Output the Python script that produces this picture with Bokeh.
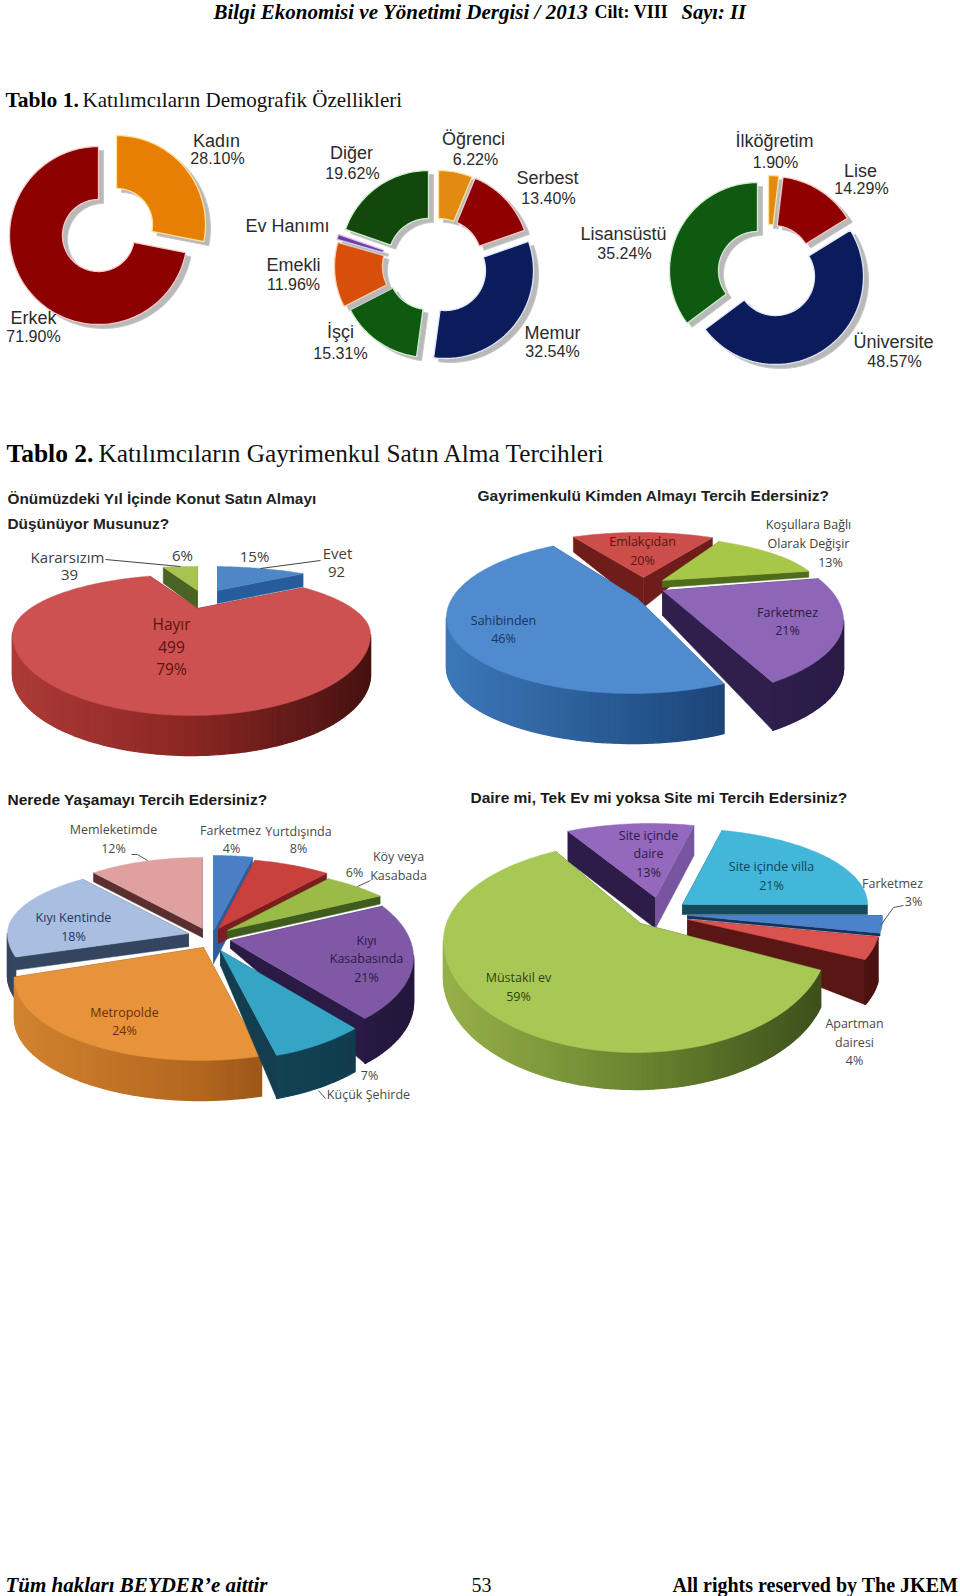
import math
from bokeh.plotting import figure
from bokeh.models import Range1d
from bokeh.core.properties import value
from bokeh.embed import file_html
from bokeh.resources import INLINE

# ---------- data ----------
gender_labels = ["Kadın", "Erkek"]
gender_values = [28.10, 71.90]
job_labels = ["Öğrenci", "Serbest", "Memur", "İşçi", "Emekli", "Ev Hanımı", "Diğer"]
job_values = [6.22, 13.40, 32.54, 15.31, 11.96, 0.95, 19.62]
edu_labels = ["İlköğretim", "Lise", "Üniversite", "Lisansüstü"]
edu_values = [1.90, 14.29, 48.57, 35.24]

buy_labels = ["Evet", "Hayır", "Kararsızım"]
buy_values = [15, 79, 6]
seller_labels = ["Emlakçıdan", "Koşullara Bağlı Olarak Değişir", "Farketmez", "Sahibinden"]
seller_values = [20, 13, 21, 46]
place_labels = ["Farketmez", "Yurtdışında", "Köy veya Kasabada", "Kıyı Kasabasında",
                "Küçük Şehirde", "Metropolde", "Kıyı Kentinde", "Memleketimde"]
place_values = [4, 8, 6, 21, 7, 24, 18, 12]
home_labels = ["Site içinde daire", "Site içinde villa", "Farketmez", "Apartman dairesi", "Müstakil ev"]
home_values = [13, 21, 3, 4, 59]

# ---------- page ----------
W, H = 960, 1596
p = figure(width=W, height=H, output_backend="svg", toolbar_location=None,
           x_range=Range1d(0, W), y_range=Range1d(H, 0), min_border=0,
           background_fill_color="white", border_fill_color="white", margin=0)
p.axis.visible = False
p.grid.visible = False
p.outline_line_color = None
SERIF, SANS, OPEN = "Liberation Serif", "Liberation Sans", "Open Sans"


def txt(x, y, s, size, color="#333333", font=OPEN, style="normal", align="center"):
    p.text([x], [y - 1.5], text=[s], text_font=value(font), text_font_size=f"{size}px",
           text_font_style=style, text_color=color, text_align=align, text_baseline="middle")


def angles(vals, start=0.0):
    out, a, tot = [], start, sum(vals)
    for v in vals:
        b = a + v / tot * 360.0
        out.append((a, b))
        a = b
    return out


def arc_steps(a, b, step=1.5):
    n = max(2, int((b - a) / step) + 1)
    return [a + (b - a) * i / (n - 1) for i in range(n)]


# ---------- flat donuts with a drop shadow ----------
def donut(vals, apexes, R, r, colors, halos, shadow=(5, 4)):
    for (a, b), (cx, cy), c, hl in zip(angles(vals), apexes, colors, halos):
        th = arc_steps(a, b)
        xs = [cx + R * math.sin(math.radians(t)) for t in th] + \
             [cx + r * math.sin(math.radians(t)) for t in reversed(th)]
        ys = [cy - R * math.cos(math.radians(t)) for t in th] + \
             [cy - r * math.cos(math.radians(t)) for t in reversed(th)]
        p.patch([x + shadow[0] for x in xs], [y + shadow[1] for y in ys],
                fill_color="#b9b9b9", line_color="#c8c8c8", line_width=1)
        p.patch(xs, ys, fill_color=c, line_color=hl, line_width=1.3)


# ---------- "3D" pies ----------
def hit(ax, ay, dx, dy, e):
    ex, ey, rx, ryt, ryb = e
    for ry in (ryt, ryb):
        A = (dx / rx) ** 2 + (dy / ry) ** 2
        B = 2 * ((ax - ex) * dx / rx ** 2 + (ay - ey) * dy / ry ** 2)
        C = ((ax - ex) / rx) ** 2 + ((ay - ey) / ry) ** 2 - 1
        D = B * B - 4 * A * C
        if D < 0:
            continue
        s = (-B + math.sqrt(D)) / (2 * A)
        x, y = ax + s * dx, ay + s * dy
        if ry is ryb or y <= ey:
            return x, y
    return ax, ay


def mix(c1, c2, t):
    a = [int(c1[i:i + 2], 16) for i in (1, 3, 5)]
    b = [int(c2[i:i + 2], 16) for i in (1, 3, 5)]
    return "#%02x%02x%02x" % tuple(round(u + (v - u) * t) for u, v in zip(a, b))


def wedge3d(a, b, w):
    ax, ay = w["apex"]
    e = w["e"]
    ex, ey, rx = e[:3]
    kt, kb = w.get("kt", 0.48), w.get("kb", 0.48)
    pts = []
    for t in arc_steps(a, b):
        sn, cs = math.sin(math.radians(t)), math.cos(math.radians(t))
        pts.append(hit(ax, ay, sn, -cs * (kt if cs > 0 else kb), e))
    h, ha = w.get("h", 0), w.get("ha", w.get("h", 0))
    hw = w.get("hw", h)
    side = w.get("side", "#333333")
    for q, col in ((pts[0], w.get("side0", side)), (pts[-1], w.get("side1", side))):
        p.patch([ax, q[0], q[0], ax], [ay, q[1], q[1] + h, ay + ha],
                fill_color=col, line_color=col, line_width=0.5)
    wall = w.get("wall")
    if wall and hw > 0:
        for (x0, y0), (x1, y1) in zip(pts[:-1], pts[1:]):
            if max(y0, y1) < ey:
                continue
            f = max(0, min(1, ((x0 + x1) / 2 - (ex - rx)) / (2 * rx)))
            col = mix(wall[0], wall[1], f * 2) if f < .5 else mix(wall[1], wall[2], f * 2 - 1)
            p.patch([x0, x1, x1, x0], [y0, y1, y1 + hw, y0 + hw],
                    fill_color=col, line_color=col, line_width=1.4)
    p.patch([ax] + [q[0] for q in pts], [ay] + [q[1] for q in pts],
            fill_color=w["top"], line_color=w["top"], line_width=0.5)


def pie3d(vals, layout, order, start=0.0):
    spans = angles(vals, start)
    for i in order:
        wedge3d(spans[i][0], spans[i][1], layout[i])


# ---------- header ----------
txt(213, 13, "Bilgi Ekonomisi ve Yönetimi Dergisi / 2013", 21, "#000000", SERIF, "bold italic", "left")
txt(594, 13, "Cilt: VIII", 18, "#000000", SERIF, "bold", "left")
txt(681, 13, "Sayı: II", 20.5, "#000000", SERIF, "bold italic", "left")
txt(5, 101, "Tablo 1.", 21.5, "#000000", SERIF, "bold", "left")
txt(82, 101, "Katılımcıların Demografik Özellikleri", 21, "#111111", SERIF, "normal", "left")
txt(6, 454, "Tablo 2.", 25.5, "#000000", SERIF, "bold", "left")
txt(98, 454, "Katılımcıların Gayrimenkul Satın Alma Tercihleri", 25.3, "#111111", SERIF, "normal", "left")

# ---------- donuts ----------
donut(gender_values, [(116, 224), (98, 235)], 89, 36, ["#e87f05", "#8c0000"], ["#fbe39a", "#f5c9c9"])
donut(job_values, [(438, 258), (441, 259), (445, 270), (428, 269), (422, 266), (421, 263), (428, 258)], 88, 40,
      ["#e38a12", "#8f0000", "#0b1c5c", "#0e5a10", "#d84f0c", "#6f3fa0", "#12480c"],
      ["#fbe39a", "#f5c9c9", "#dfe6f5", "#cfeecf", "#f8d0b0", "#d8c8ec", "#cfeecf"])
donut(edu_values, [(768, 263), (772, 264), (775, 276), (757, 270)], 88, 39,
      ["#e38a12", "#8f0000", "#0b1c5c", "#0e5a10"], ["#fbe39a", "#f5c9c9", "#dfe6f5", "#cfeecf"])

donut_text = [("Kadın", 216, 142, 18), ("28.10%", 217, 159, 16), ("Erkek", 33, 319, 18), ("71.90%", 33, 337, 16),
              ("Diğer", 351, 154, 18), ("19.62%", 352, 174, 16), ("Ev Hanımı", 287, 227, 18),
              ("Emekli", 293, 266, 18), ("11.96%", 293, 285, 16), ("İşçi", 340, 333, 18), ("15.31%", 340, 354, 16),
              ("Öğrenci", 473, 140, 18), ("6.22%", 475, 160, 16), ("Serbest", 547, 179, 18), ("13.40%", 548, 199, 16),
              ("Memur", 552, 334, 18), ("32.54%", 552, 352, 16), ("İlköğretim", 774, 142, 18), ("1.90%", 775, 163, 16),
              ("Lise", 860, 172, 18), ("14.29%", 861, 189, 16), ("Lisansüstü", 623, 235, 18), ("35.24%", 624, 254, 16),
              ("Üniversite", 893, 343, 18), ("48.57%", 894, 362, 16)]
for s, x, y, sz in donut_text:
    txt(x, y, s, sz, "#2b2b2b", SANS)

# ---------- pie A ----------
buy_layout = [
    dict(apex=(217, 590), e=(210, 616, 179, 50, 60), kt=.27, kb=.27, h=13, ha=13, side="#275c9a", top="#4f86c6"),
    dict(apex=(197, 608), e=(191, 634, 179, 60, 81), kt=.27, kb=.5, h=40, side="#5a1a18", top="#cd5150",
         wall=("#ad3b37", "#8a2623", "#451210")),
    dict(apex=(197, 590), e=(191, 616, 179, 50, 60), kt=.27, kb=.27, h=16, ha=18, side="#4a6324", top="#a8c34f"),
]
pie3d(buy_values, buy_layout, [2, 0, 1])
buy_text = [("Kararsızım", 67, 558, 15), ("39", 69, 576, 15), ("6%", 182, 556, 15), ("15%", 254, 557, 15),
            ("Evet", 337, 554, 15), ("92", 336, 573, 15)]
for s, x, y, sz in buy_text:
    txt(x, y, s, sz, "#404040")
for s, y in (("Hayır", 625), ("499", 648), ("79%", 670)):
    txt(171, y, s, 15.5, "#5a1412")
p.line([105, 180], [559, 566], line_color="#444444", line_width=1)
p.line([320, 260], [560, 568], line_color="#444444", line_width=1)
txt(7, 499, "Önümüzdeki Yıl İçinde Konut Satın Almayı", 15.4, "#222222", SANS, "bold", "left")
txt(7, 524, "Düşünüyor Musunuz?", 15.4, "#222222", SANS, "bold", "left")

# ---------- pie B ----------
seller_layout = [
    dict(apex=(643, 577), e=(640, 598, 186, 66, 66), kt=.42, kb=.42, h=15, ha=30, side="#6e1d1a", top="#cb4e4a"),
    dict(apex=(662, 580), e=(635, 590, 185, 55, 55), kt=.5, kb=.5, h=6, ha=7, side="#4f6b1c", top="#a7c748"),
    dict(apex=(662, 590), e=(650, 620, 193, 85, 80), kt=.6, kb=.33, h=48, ha=25, side="#2f1f4c", top="#8d66b8",
         wall=("#3a2a5e", "#33235a", "#2a1b46")),
    dict(apex=(637, 598), e=(632, 617, 186, 79, 76), kt=.45, kb=.39, h=50, ha=20, side="#1c3f70", top="#4f8bce",
         wall=("#3d78b8", "#25568f", "#14325e")),
]
pie3d(seller_values, seller_layout, [0, 1, 2, 3], start=-36)
txt(477, 496, "Gayrimenkulü Kimden Almayı Tercih Edersiniz?", 15.5, "#222222", SANS, "bold", "left")
seller_text = [("Koşullara Bağlı", 808, 525, "#404040"), ("Olarak Değişir", 808, 544, "#404040"), ("13%", 830, 563, "#404040"),
               ("Emlakçıdan", 642, 542, "#5a1412"), ("20%", 642, 561, "#5a1412"), ("Sahibinden", 503, 621, "#17355f"),
               ("46%", 503, 639, "#17355f"), ("Farketmez", 787, 613, "#2a1b46"), ("21%", 787, 631, "#2a1b46")]
for s, x, y, c in seller_text:
    txt(x, y, s, 12.5, c)

# ---------- pie C ----------
place_layout = [
    dict(apex=(213, 930), e=(213, 950, 205, 95, 95), h=33, side="#2d5d9a", top="#4a7fc5"),
    dict(apex=(218, 928), e=(215, 950, 205, 92, 92), h=15, side="#7a1f1d", top="#c9403d"),
    dict(apex=(227, 930), e=(225, 950, 205, 83, 83), h=8, side="#3f5b1d", top="#9bbb48"),
    dict(apex=(230, 940), e=(230, 957, 183, 92, 90), h=45, ha=8, side="#2a1b46", top="#7f58a6",
         wall=("#2f1f4c", "#2f1f4c", "#24173d")),
    dict(apex=(220, 950), e=(218, 955, 190, 105, 105), h=43, ha=15, side="#123e4f", top="#35a5c5",
         wall=("#1a5064", "#15465a", "#10384a")),
    dict(apex=(203, 947), e=(200, 978, 186, 82, 82), h=40, ha=10, side="#7a4312", top="#e7933a",
         wall=("#d28330", "#b2661f", "#6e3a10")),
    dict(apex=(188, 933), e=(189, 933, 182, 67, 80), kb=.42, h=13, hw=42, side="#34455f", top="#a9bfe2",
         wall=("#34455f", "#34455f", "#34455f")),
    dict(apex=(202, 928), e=(200, 945, 190, 88, 88), h=9, side="#5a2f30", top="#dfa0a0"),
]
pie3d(place_values, place_layout, [7, 0, 1, 2, 6, 3, 5, 4])
txt(7, 800, "Nerede Yaşamayı Tercih Edersiniz?", 15.5, "#1a1a1a", SANS, "bold", "left")
place_text = [("Memleketimde", 113, 830, "#4a4a4a"), ("12%", 113, 849, "#4a4a4a"), ("Farketmez", 230, 831, "#4a4a4a"),
              ("4%", 231, 849, "#4a4a4a"), ("Yurtdışında", 298, 832, "#4a4a4a"), ("8%", 298, 849, "#4a4a4a"),
              ("Köy veya", 398, 857, "#4a4a4a"), ("Kasabada", 398, 876, "#4a4a4a"), ("6%", 354, 873, "#4a4a4a"),
              ("Kıyı Kentinde", 73, 918, "#1f3560"), ("18%", 73, 937, "#1f3560"), ("Kıyı", 366, 941, "#2a1b46"),
              ("Kasabasında", 366, 959, "#2a1b46"), ("21%", 366, 978, "#2a1b46"), ("Metropolde", 124, 1013, "#6e2a10"),
              ("24%", 124, 1031, "#6e2a10"), ("7%", 369, 1076, "#4a4a4a"), ("Küçük Şehirde", 368, 1095, "#4a4a4a")]
for s, x, y, c in place_text:
    txt(x, y, s, 12.5, c)
p.line([131, 137, 147], [854, 854, 860], line_color="#555555", line_width=1)
p.line([370, 357], [880, 886], line_color="#555555", line_width=1)
p.line([325, 318], [1098, 1090], line_color="#555555", line_width=1)

# ---------- pie D ----------
home_layout = [
    dict(apex=(655, 897), e=(650, 900, 190, 77, 77), h=30, ha=31, side0="#2c1c48", side1="#7755a0", top="#9468bd"),
    dict(apex=(682, 904), e=(680, 904, 187, 76, 76), h=10, side="#134a5c", top="#43b7d9"),
    dict(apex=(687, 915), e=(687, 920, 195, 80, 80), h=3, side="#17305a", top="#4b82c9"),
    dict(apex=(687, 919), e=(687, 925, 192, 90, 90), h=45, ha=16, side="#5a1614", top="#d9534f",
         wall=("#5a1614", "#5a1614", "#4a1210")),
    dict(apex=(640, 923), e=(635, 940, 192, 98, 112), kt=.54, kb=.55, h=37, ha=10, side="#3d4f1c", top="#a8c855",
         wall=("#96b04a", "#6a8530", "#3c4e1b")),
]
pie3d(home_values, home_layout, [0, 1, 2, 3, 4], start=-32.4)
txt(470, 798, "Daire mi, Tek Ev mi yoksa Site mi Tercih Edersiniz?", 15.5, "#1a1a1a", SANS, "bold", "left")
home_text = [("Site içinde", 648, 836, "#2c1c48"), ("daire", 648, 854, "#2c1c48"), ("13%", 648, 873, "#2c1c48"),
             ("Site içinde villa", 771, 867, "#0f4558"), ("21%", 771, 886, "#0f4558"), ("Farketmez", 892, 884, "#4a4a4a"),
             ("3%", 913, 902, "#4a4a4a"), ("Müstakil ev", 518, 978, "#2f4212"), ("59%", 518, 997, "#2f4212"),
             ("Apartman", 854, 1024, "#4a4a4a"), ("dairesi", 854, 1043, "#4a4a4a"), ("4%", 854, 1061, "#4a4a4a")]
for s, x, y, c in home_text:
    txt(x, y, s, 12.5, c)
p.line([903, 893, 880], [905, 907, 925], line_color="#555555", line_width=1)

# ---------- footer ----------
txt(5, 1586, "Tüm hakları BEYDER’e aittir", 21, "#000000", SERIF, "bold italic", "left")
txt(481, 1586, "53", 20, "#111111", SERIF, "normal", "center")
txt(672, 1586, "All rights reserved by The JKEM", 20, "#000000", SERIF, "bold", "left")

open("out.html", "w").write(file_html(p, INLINE))
